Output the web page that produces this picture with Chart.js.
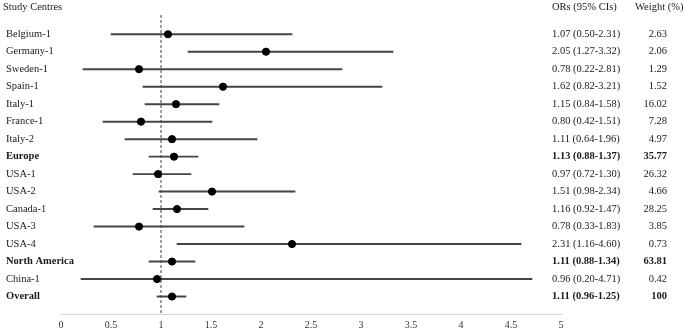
<!DOCTYPE html>
<html>
<head>
<meta charset="utf-8">
<script src="https://cdn.jsdelivr.net/npm/chart.js@4"></script>
<style>
  html, body { margin: 0; padding: 0; background: #fff; }
  #wrap { width: 685px; height: 331px; }
</style>
</head>
<body>
<div id="wrap"><canvas id="Forest"></canvas></div>
<script>
const centres = ['Belgium-1', 'Germany-1', 'Sweden-1', 'Spain-1', 'Italy-1', 'France-1', 'Italy-2', 'Europe',
    'USA-1', 'USA-2', 'Canada-1', 'USA-3', 'USA-4', 'North America', 'China-1', 'Overall'];
const odds = [1.07, 2.05, 0.78, 1.62, 1.15, 0.80, 1.11, 1.13, 0.97, 1.51, 1.16, 0.78, 2.31, 1.11, 0.96, 1.11];
const ci_low = [0.50, 1.27, 0.22, 0.82, 0.84, 0.42, 0.64, 0.88, 0.72, 0.98, 0.92, 0.33, 1.16, 0.88, 0.20, 0.96];
const ci_high = [2.31, 3.32, 2.81, 3.21, 1.58, 1.51, 1.96, 1.37, 1.30, 2.34, 1.47, 1.83, 4.60, 1.34, 4.71, 1.25];
const weights = ['2.63', '2.06', '1.29', '1.52', '16.02', '7.28', '4.97', '35.77', '26.32', '4.66', '28.25', '3.85', '0.73', '63.81', '0.42', '100'];
const summary_rows = ['Europe', 'North America', 'Overall'];
const x_ticks = [0, 0.5, 1, 1.5, 2, 2.5, 3, 3.5, 4, 4.5, 5];

const fmt = (v) => v.toFixed(2);
const serif = '"Liberation Serif"';

// text columns drawn next to each row, using the y scale positions
const columnText = {
    id: 'columnText',
    afterDraw(chart) {
        const ctx = chart.ctx;
        const y = chart.scales.y;
        ctx.save();
        ctx.fillStyle = '#1a1a1a';
        ctx.textBaseline = 'middle';
        ctx.font = '10.5px ' + serif;
        ctx.textAlign = 'left';
        ctx.fillText('Study Centres', 3, 7);
        ctx.fillText('ORs (95% CIs)', 552, 7);
        ctx.fillText('Weight (%)', 635, 7);
        centres.forEach((name, i) => {
            const py = y.getPixelForValue(i);
            const bold = summary_rows.includes(name) ? 'bold ' : '';
            ctx.textAlign = 'left';
            ctx.font = bold + '10.5px ' + serif;
            ctx.fillText(name, 6, py);
            ctx.fillText(fmt(odds[i]) + ' (' + fmt(ci_low[i]) + '-' + fmt(ci_high[i]) + ')', 552, py);
            ctx.textAlign = 'right';
            ctx.fillText(weights[i], 667, py);
        });
        ctx.restore();
    }
};

const forest_canvas = document.getElementById('Forest');

const forest_chart = new Chart(
    forest_canvas,
    {
        type: 'scatter',
        data: {
            datasets: [
                {
                    type: 'scatter',
                    label: 'OR',
                    data: odds.map((v, i) => ({x: v, y: i})),
                    backgroundColor: '#000',
                    borderColor: '#000',
                    pointRadius: 3.6,
                    order: 0,
                },
                {
                    type: 'bar',
                    label: '95% CI',
                    indexAxis: 'y',
                    data: ci_low.map((v, i) => ({x: [v, ci_high[i]], y: i})),
                    backgroundColor: '#444',
                    borderWidth: 0,
                    barThickness: 1.3,
                    order: 1,
                },
                {
                    type: 'line',
                    label: 'No effect',
                    data: [{x: 1, y: -1.1}, {x: 1, y: 16}],
                    borderColor: '#444',
                    borderWidth: 1,
                    borderDash: [3, 2],
                    pointRadius: 0,
                    order: 2,
                }
            ]
        },
        options: {
            responsive: true,
            maintainAspectRatio: false,
            animation: false,
            layout: {
                padding: {left: 61, right: 124, top: 15, bottom: 0}
            },
            scales: {
                x: {
                    type: 'linear',
                    min: 0,
                    max: 5,
                    offset: false,
                    afterBuildTicks: (scale) => {
                        scale.ticks = x_ticks.map(v => ({value: v}));
                    },
                    afterFit: (scale) => {
                        scale.height = 17;
                    },
                    grid: {
                        display: false,
                        drawTicks: false,
                    },
                    border: {
                        display: true,
                        color: '#d4d4d4',
                    },
                    ticks: {
                        padding: 5,
                        color: '#333',
                        font: {family: serif, size: 10},
                        callback: (v) => String(v),
                    }
                },
                y: {
                    type: 'linear',
                    min: -1.1,
                    max: 16,
                    reverse: true,
                    offset: false,
                    display: false,
                }
            },
            plugins: {
                legend: {display: false},
                tooltip: {enabled: false}
            }
        },
        plugins: [columnText]
    }
);
</script>
</body>
</html>
